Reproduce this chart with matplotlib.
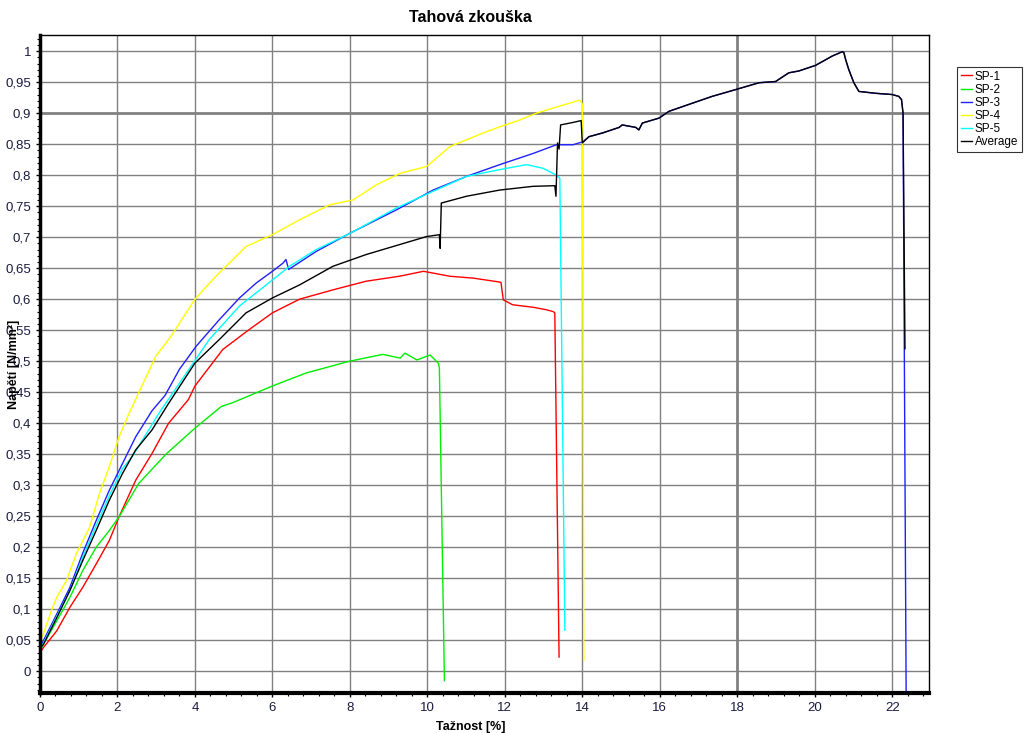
import numpy as np
import matplotlib
matplotlib.use('Agg')
import matplotlib.pyplot as plt
from matplotlib.ticker import MultipleLocator, FuncFormatter

plt.rcParams['font.family'] = ['Liberation Sans', 'DejaVu Sans']

# SP-1 (red)
sp1_x = [0, 0.085, 0.43, 0.77, 1.1, 1.45, 1.79, 2.04, 2.47, 2.89, 3.32, 3.83, 4.0, 4.72, 5.4,
         6.0, 6.7, 7.56, 8.42, 9.28, 9.9, 10.58, 11.18, 11.83, 11.90, 11.96, 12.2, 12.73, 13.07,
         13.25, 13.29, 13.40]
sp1_y = [0.03, 0.038, 0.065, 0.103, 0.135, 0.173, 0.211, 0.249, 0.308, 0.351, 0.40, 0.438, 0.46,
         0.519, 0.551, 0.578, 0.60, 0.615, 0.629, 0.637, 0.645, 0.637, 0.634, 0.628, 0.627, 0.599,
         0.591, 0.587, 0.583, 0.58, 0.578, 0.023]

# SP-2 (green)
sp2_x = [0, 0.04, 0.43, 0.77, 1.1, 1.45, 1.79, 2.04, 2.55, 3.25, 4.0, 4.68, 4.97, 6.0, 6.87,
         7.99, 8.85, 9.3, 9.42, 9.73, 10.07, 10.28, 10.31, 10.44]
sp2_y = [0.035, 0.038, 0.081, 0.119, 0.162, 0.20, 0.227, 0.249, 0.303, 0.35, 0.392, 0.427, 0.433,
         0.46, 0.481, 0.50, 0.511, 0.505, 0.513, 0.502, 0.51, 0.497, 0.49, -0.015]

# SP-3 (blue)
sp3_x = [0, 0.085, 0.43, 0.77, 1.1, 1.45, 1.79, 2.13, 2.47, 2.89, 3.23, 3.6, 4.03, 4.63, 5.15,
         5.58, 6.0, 6.27, 6.35, 6.42, 7.13, 7.99, 9.2, 10.15, 11.01, 11.87, 12.73, 13.33, 13.76,
         14.02, 14.17, 14.52, 14.95, 15.03, 15.38, 15.46, 15.55, 15.98, 16.24, 16.84, 17.35,
         17.96, 18.56, 18.99, 19.33, 19.59, 20.02, 20.28, 20.45, 20.71, 20.75, 20.8, 20.88,
         21.01, 21.14, 21.57, 22.0, 22.17, 22.24, 22.28, 22.36]
sp3_y = [0.04, 0.049, 0.092, 0.135, 0.19, 0.243, 0.292, 0.335, 0.378, 0.42, 0.445, 0.487, 0.524,
         0.567, 0.602, 0.626, 0.645, 0.658, 0.664, 0.648, 0.677, 0.706, 0.744, 0.776, 0.798,
         0.817, 0.835, 0.849, 0.849, 0.854, 0.862, 0.868, 0.877, 0.881, 0.877, 0.873, 0.884,
         0.892, 0.903, 0.916, 0.927, 0.938, 0.949, 0.951, 0.965, 0.968, 0.977, 0.986, 0.992,
         0.999, 0.998, 0.986, 0.97, 0.949, 0.935, 0.932, 0.93, 0.927, 0.922, 0.90, -0.035]

# SP-4 (yellow)
sp4_x = [0, 0.085, 0.26, 0.43, 0.68, 0.94, 1.28, 1.53, 1.79, 2.04, 2.3, 2.99, 3.38, 4.0, 4.54,
         5.32, 6.0, 6.7, 7.47, 8.08, 8.7, 9.3, 9.98, 10.58, 11.01, 11.44, 11.87, 12.39, 12.82,
         13.24, 13.67, 13.93, 14.0, 14.04]
sp4_y = [0.05, 0.06, 0.092, 0.119, 0.146, 0.19, 0.232, 0.286, 0.33, 0.378, 0.416, 0.508, 0.54,
         0.60, 0.637, 0.685, 0.704, 0.728, 0.752, 0.76, 0.785, 0.803, 0.814, 0.846, 0.857, 0.868,
         0.878, 0.889, 0.90, 0.908, 0.916, 0.921, 0.915, 0.018]

# SP-5 (cyan)
sp5_x = [0, 0.085, 0.43, 0.77, 1.1, 1.45, 1.79, 2.13, 2.39, 3.08, 3.77, 4.37, 5.15, 6.0, 6.44,
         7.13, 8.0, 9.2, 10.15, 11.01, 11.87, 12.56, 12.99, 13.33, 13.42, 13.55]
sp5_y = [0.04, 0.045, 0.088, 0.13, 0.183, 0.235, 0.283, 0.327, 0.347, 0.417, 0.48, 0.535, 0.589,
         0.631, 0.653, 0.68, 0.706, 0.747, 0.774, 0.798, 0.809, 0.817, 0.811, 0.80, 0.795, 0.066]

# Average (black)
avg_x = [0, 0.085, 0.43, 0.77, 1.1, 1.45, 1.79, 2.13, 2.47, 2.89, 3.32, 4.0, 4.63, 5.32, 6.0,
         6.7, 7.56, 8.42, 9.28, 9.98, 10.31, 10.33, 10.36, 11.01, 11.87, 12.73, 13.29, 13.32,
         13.36, 13.40, 13.44, 13.76, 13.97, 14.0, 14.17, 14.52, 14.95, 15.03, 15.38, 15.46,
         15.55, 15.98, 16.24, 16.84, 17.35, 17.96, 18.56, 18.99, 19.33, 19.59, 20.02, 20.28,
         20.45, 20.71, 20.75, 20.8, 20.88, 21.01, 21.14, 21.57, 22.0, 22.17, 22.24, 22.28, 22.33]
avg_y = [0.038, 0.043, 0.086, 0.13, 0.178, 0.227, 0.276, 0.319, 0.357, 0.389, 0.432, 0.497,
         0.535, 0.578, 0.602, 0.623, 0.653, 0.672, 0.688, 0.701, 0.704, 0.682, 0.755, 0.766,
         0.776, 0.782, 0.783, 0.766, 0.852, 0.842, 0.881, 0.885, 0.888, 0.852, 0.862, 0.868,
         0.877, 0.881, 0.877, 0.873, 0.884, 0.892, 0.903, 0.916, 0.927, 0.938, 0.949, 0.951,
         0.965, 0.968, 0.977, 0.986, 0.992, 0.999, 0.998, 0.986, 0.97, 0.949, 0.935, 0.932,
         0.93, 0.927, 0.922, 0.90, 0.52]

fig = plt.figure(figsize=(10.24, 7.33), dpi=100)
ax = fig.add_axes([40/1024, 40/733, 889/1024, 658/733])

ax.plot(sp1_x, sp1_y, color='#ff0000', lw=1, label='SP-1')
ax.plot(sp2_x, sp2_y, color='#00ee00', lw=1, label='SP-2')
ax.plot(sp3_x, sp3_y, color='#2020ff', lw=1, label='SP-3')
ax.plot(sp4_x, sp4_y, color='#ffff00', lw=1, label='SP-4')
ax.plot(sp5_x, sp5_y, color='#00ffff', lw=1, label='SP-5')
ax.plot(avg_x, avg_y, color='black', lw=1, label='Average')

ax.set_xlim(0, 22.95)
ax.set_ylim(-0.035, 1.026)

ax.xaxis.set_major_locator(MultipleLocator(2))
ax.xaxis.set_minor_locator(MultipleLocator(0.4))
ax.yaxis.set_major_locator(MultipleLocator(0.05))
ax.yaxis.set_minor_locator(MultipleLocator(0.01))

def comma(v, pos):
    s = ('%.2f' % v).rstrip('0').rstrip('.')
    if s == '-0':
        s = '0'
    return s.replace('.', ',')

ax.yaxis.set_major_formatter(FuncFormatter(comma))
ax.xaxis.set_major_formatter(FuncFormatter(comma))
ax.tick_params(axis='both', which='major', labelsize=9.5, length=3, width=1, colors='black',
               labelcolor='#1a1a40')
ax.tick_params(axis='both', which='minor', length=2, width=0.8)

ax.grid(True, which='major', color='#808080', lw=1)
ax.set_axisbelow(True)
# the 0,9 and 18 lines look heavier in the original
ax.axhline(0.9, color='#707070', lw=1.8, zorder=0.5)
ax.axvline(18, color='#707070', lw=1.8, zorder=0.5)

ax.spines['left'].set_linewidth(2.5)
ax.spines['bottom'].set_linewidth(3)
ax.spines['top'].set_linewidth(1)
ax.spines['right'].set_linewidth(1)

ax.set_title('Tahová zkouška', fontsize=11.5, fontweight='bold', x=0.484, pad=9)
ax.set_xlabel('Tažnost [%]', fontsize=9, fontweight='bold')
ax.set_ylabel('Napětí [N/mm²]', fontsize=9, fontweight='bold')
ax.xaxis.set_label_coords(0.484, -0.042)
ax.yaxis.set_label_coords(-0.022, 0.5)

leg = fig.legend(loc='upper left', bbox_to_anchor=(957/1024, 1 - 67/733), fontsize=8.5,
                 frameon=True, fancybox=False, edgecolor='black', handlelength=1.0,
                 handletextpad=0.2, borderpad=0.3, labelspacing=0.1, borderaxespad=0)
leg.get_frame().set_linewidth(0.8)

fig.savefig('out.png', dpi=100)
